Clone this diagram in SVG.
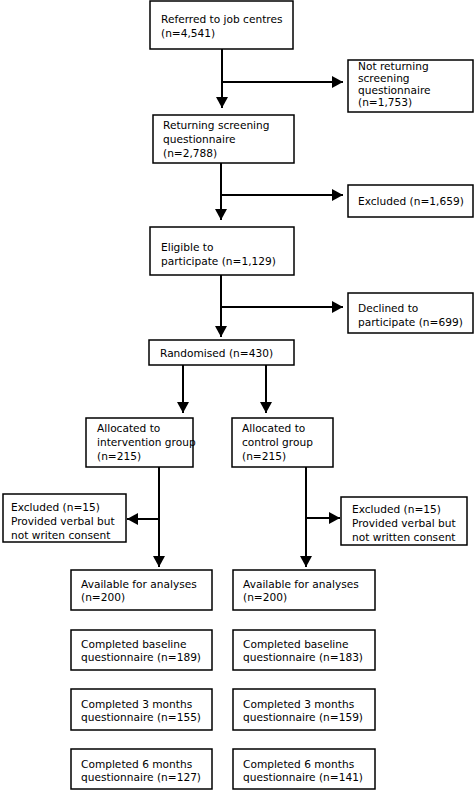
<svg xmlns="http://www.w3.org/2000/svg" width="474" height="790" viewBox="0 0 474 790">
<style>
rect{fill:#fff;stroke:#000;stroke-width:1.5}
text{font-family:"DejaVu Sans",Verdana,sans-serif;font-size:10.6px;fill:#000}
.c{fill:none;stroke:#000;stroke-width:2}
</style>
<defs>
<marker id="ah" markerUnits="userSpaceOnUse" markerWidth="12" markerHeight="12" refX="11" refY="6" orient="auto">
<path d="M0,0 L11,6 L0,12 z" fill="#000"/>
</marker>
</defs>
<rect width="474" height="790" style="fill:#fff;stroke:none"/>
<g id="connectors">
<path class="c" d="M222,49 V108" marker-end="url(#ah)"/>
<path class="c" d="M222,82 H343" marker-end="url(#ah)"/>
<path class="c" d="M221,163 V220" marker-end="url(#ah)"/>
<path class="c" d="M221,195 H343" marker-end="url(#ah)"/>
<path class="c" d="M221,275 V337" marker-end="url(#ah)"/>
<path class="c" d="M221,307 H343" marker-end="url(#ah)"/>
<path class="c" d="M183,365 V413" marker-end="url(#ah)"/>
<path class="c" d="M266,365 V413" marker-end="url(#ah)"/>
<path class="c" d="M159,467 V567" marker-end="url(#ah)"/>
<path class="c" d="M159,519 H127" marker-end="url(#ah)"/>
<path class="c" d="M306,467 V567" marker-end="url(#ah)"/>
<path class="c" d="M306,518 H340" marker-end="url(#ah)"/>
</g>
<g id="referred"><rect x="150" y="1" width="143" height="48"/><text x="161" y="23">Referred to job centres</text><text x="161" y="37">(n=4,541)</text></g>
<g id="notreturning"><rect x="348" y="60" width="125" height="52"/><text x="358" y="70">Not returning</text><text x="358" y="82">screening</text><text x="358" y="94">questionnaire</text><text x="358" y="106">(n=1,753)</text></g>
<g id="returning"><rect x="153" y="115" width="141" height="48"/><text x="163" y="129">Returning screening</text><text x="163" y="143">questionnaire</text><text x="163" y="157">(n=2,788)</text></g>
<g id="excluded1"><rect x="348" y="185" width="125" height="32"/><text x="358" y="205">Excluded (n=1,659)</text></g>
<g id="eligible"><rect x="150" y="227" width="144" height="48"/><text x="161" y="251">Eligible to</text><text x="161" y="265">participate (n=1,129)</text></g>
<g id="declined"><rect x="348" y="293" width="125" height="40"/><text x="358" y="312">Declined to</text><text x="358" y="326">participate (n=699)</text></g>
<g id="randomised"><rect x="149" y="340" width="145" height="25"/><text x="160" y="357">Randomised (n=430)</text></g>
<g id="intervention"><rect x="86" y="418" width="107" height="49"/><text x="97" y="432">Allocated to</text><text x="97" y="446">intervention group</text><text x="97" y="460">(n=215)</text></g>
<g id="control"><rect x="232" y="418" width="101" height="49"/><text x="242" y="432">Allocated to</text><text x="242" y="446">control group</text><text x="242" y="460">(n=215)</text></g>
<g id="excl-int"><rect x="3" y="494" width="123" height="48"/><text x="11" y="511">Excluded (n=15)</text><text x="11" y="525">Provided verbal but</text><text x="11" y="539">not writen consent</text></g>
<g id="excl-ctl"><rect x="341" y="497" width="126" height="48"/><text x="352" y="513">Excluded (n=15)</text><text x="352" y="527">Provided verbal but</text><text x="352" y="541">not written consent</text></g>
<g id="avail-int"><rect x="71" y="570" width="141" height="40"/><text x="81" y="588">Available for analyses</text><text x="81" y="601">(n=200)</text></g>
<g id="avail-ctl"><rect x="233" y="570" width="142" height="40"/><text x="243" y="588">Available for analyses</text><text x="243" y="601">(n=200)</text></g>
<g id="base-int"><rect x="71" y="630" width="141" height="40"/><text x="81" y="648">Completed baseline</text><text x="81" y="661">questionnaire (n=189)</text></g>
<g id="base-ctl"><rect x="233" y="630" width="142" height="40"/><text x="243" y="648">Completed baseline</text><text x="243" y="661">questionnaire (n=183)</text></g>
<g id="m3-int"><rect x="71" y="689" width="141" height="41"/><text x="81" y="708">Completed 3 months</text><text x="81" y="721">questionnaire (n=155)</text></g>
<g id="m3-ctl"><rect x="233" y="689" width="142" height="41"/><text x="243" y="708">Completed 3 months</text><text x="243" y="721">questionnaire (n=159)</text></g>
<g id="m6-int"><rect x="71" y="749" width="141" height="40"/><text x="81" y="768">Completed 6 months</text><text x="81" y="781">questionnaire (n=127)</text></g>
<g id="m6-ctl"><rect x="233" y="749" width="142" height="40"/><text x="243" y="768">Completed 6 months</text><text x="243" y="781">questionnaire (n=141)</text></g>
</svg>
